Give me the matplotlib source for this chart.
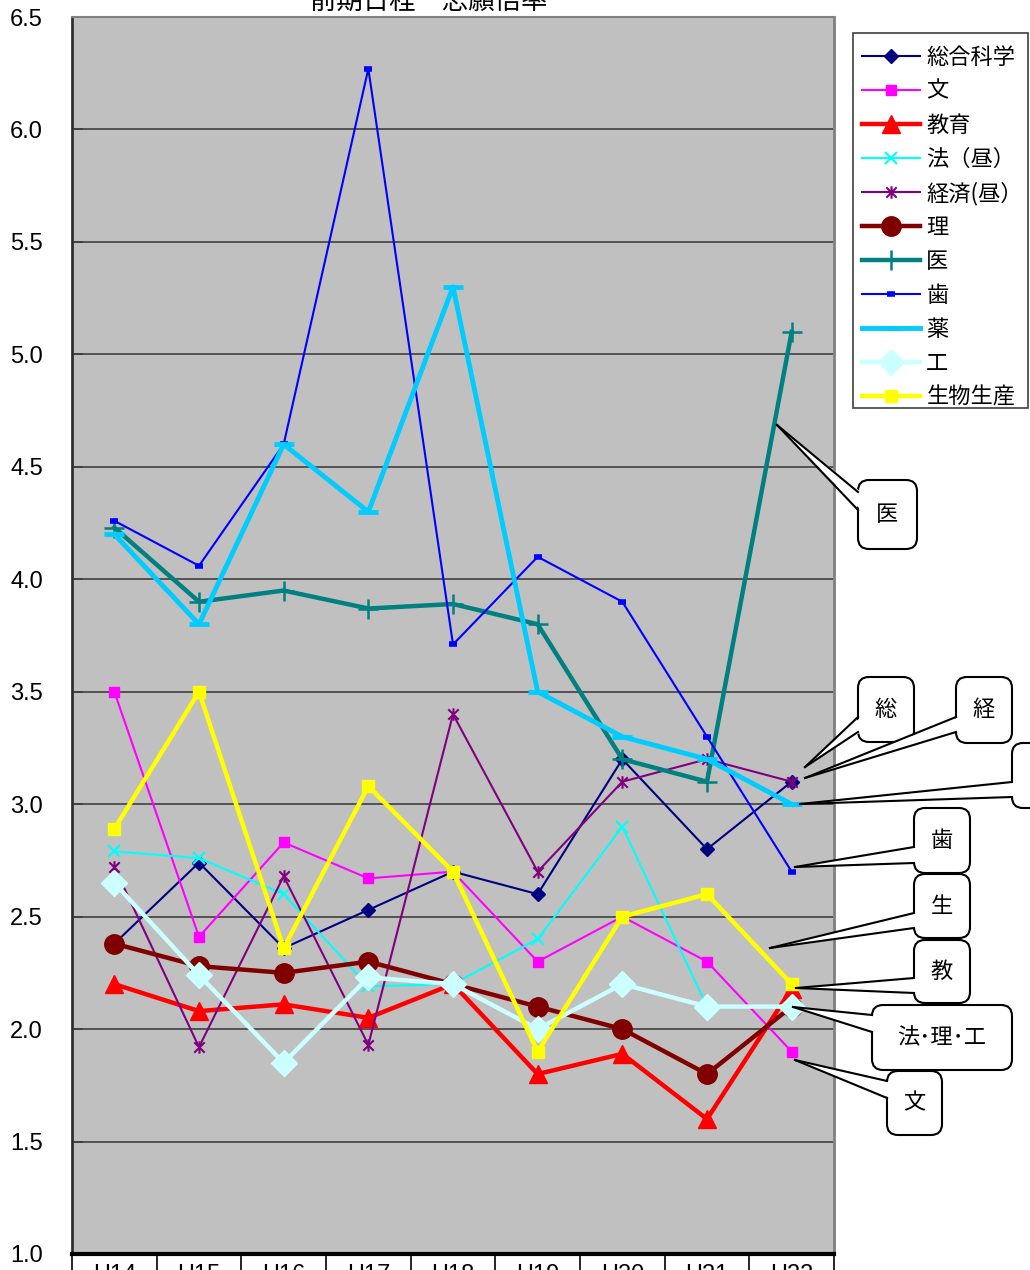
import matplotlib
matplotlib.use('Agg')
import matplotlib.pyplot as plt
from matplotlib.path import Path
from matplotlib.patches import FancyBboxPatch, Polygon, Rectangle
from matplotlib.lines import Line2D
from matplotlib.transforms import IdentityTransform

plt.rcParams['font.family'] = ['Noto Sans CJK JP', 'DejaVu Sans']

years = ['H14', 'H15', 'H16', 'H17', 'H18', 'H19', 'H20', 'H21', 'H22']

sougou = [2.38, 2.74, 2.36, 2.53, 2.70, 2.60, 3.20, 2.80, 3.10]
bun = [3.50, 2.41, 2.83, 2.67, 2.70, 2.30, 2.50, 2.30, 1.90]
kyouiku = [2.20, 2.08, 2.11, 2.05, 2.20, 1.80, 1.89, 1.60, 2.18]
hou = [2.79, 2.76, 2.60, 2.19, 2.20, 2.40, 2.90, 2.10, 2.10]
keizai = [2.72, 1.92, 2.68, 1.93, 3.40, 2.70, 3.10, 3.20, 3.10]
ri = [2.38, 2.28, 2.25, 2.30, 2.20, 2.10, 2.00, 1.80, 2.10]
i_ = [4.23, 3.90, 3.95, 3.87, 3.89, 3.80, 3.20, 3.10, 5.10]
shi = [4.26, 4.06, 4.60, 6.27, 3.71, 4.10, 3.90, 3.30, 2.70]
yaku = [4.20, 3.80, 4.60, 4.30, 5.30, 3.50, 3.30, 3.20, 3.00]
kou = [2.65, 2.24, 1.85, 2.23, 2.20, 2.00, 2.20, 2.10, 2.10]
seibutsu = [2.89, 3.50, 2.36, 3.08, 2.70, 1.90, 2.50, 2.60, 2.20]

# asterisk marker like Excel's (x plus vertical bar)
star = Path([(-1, -1), (1, 1), (-1, 1), (1, -1), (0, -1.2), (0, 1.2)],
            [Path.MOVETO, Path.LINETO, Path.MOVETO, Path.LINETO, Path.MOVETO, Path.LINETO])

# (label, values, color, linewidth, marker, markersize, markeredgewidth)
series = [
    ('総合科学', sougou, '#000080', 1.5, 'D', 7, 1),
    ('文', bun, '#FF00FF', 1.5, 's', 7.5, 1),
    ('教育', kyouiku, '#FF0000', 3.2, '^', 13, 1),
    ('法（昼）', hou, '#00FFFF', 1.5, 'x', 9, 1.5),
    ('経済(昼）', keizai, '#800080', 1.5, star, 9, 1.5),
    ('理', ri, '#800000', 3.2, 'o', 14, 1),
    ('医', i_, '#008080', 3.2, '+', 14, 1.8),
    ('歯', shi, '#0000FF', 1.5, '_', 6, 4),
    ('薬', yaku, '#00CCFF', 3.5, '_', 14, 3.5),
    ('工', kou, '#CCFFFF', 3.2, 'D', 13, 1),
    ('生物生産', seibutsu, '#FFFF00', 3.2, 's', 9, 1),
]

W, H = 1030, 1270
fig = plt.figure(figsize=(W / 100, H / 100), dpi=100)
ax = fig.add_axes([72 / W, 1 - 1254 / H, (834 - 72) / W, (1254 - 17) / H])
ax.set_facecolor('#C0C0C0')

x = list(range(len(years)))
for name, vals, col, lw, mk, ms, mew in series:
    ax.plot(x, vals, color=col, lw=lw, marker=mk, ms=ms, mew=mew,
            mfc=col, mec=col, label=name, clip_on=False)

ax.set_xlim(-0.5, len(years) - 0.5)
ax.set_ylim(1.0, 6.5)
ax.set_yticks([1.0 + 0.5 * k for k in range(12)])
ax.yaxis.set_major_formatter(matplotlib.ticker.FormatStrFormatter('%.1f'))
ax.grid(axis='y', color='#404040', lw=1.2)
ax.set_axisbelow(True)
ax.tick_params(axis='y', direction='in', length=8, width=1.2, color='#404040',
               pad=21, labelsize=17)
for lab in ax.get_yticklabels():
    lab.set_family(['Liberation Sans', 'DejaVu Sans'])

ax.set_xticks([k + 0.5 for k in range(-1, len(years))])
ax.set_xticklabels([])
ax.tick_params(axis='x', which='major', direction='out', length=25, width=1.2, color='black')
ax.set_xticks(x, minor=True)
ax.set_xticklabels(years, minor=True)
ax.tick_params(axis='x', which='minor', length=0, pad=7, labelsize=17)
for lab in ax.get_xticklabels(minor=True):
    lab.set_family(['Liberation Sans', 'DejaVu Sans'])

ax.spines['left'].set_color('#303030')
ax.spines['left'].set_linewidth(2)
ax.spines['bottom'].set_color('black')
ax.spines['bottom'].set_linewidth(3)
ax.spines['right'].set_color('#808080')
ax.spines['right'].set_linewidth(2)
ax.spines['top'].set_color('#808080')
ax.spines['top'].set_linewidth(1.5)

fig.text(429 / W, 1 - 9 / H, '前期日程　志願倍率', ha='center', va='baseline', fontsize=19)

px = IdentityTransform()

# legend: frame drawn separately so its height matches the original box
fig.add_artist(Rectangle((853, H - 408), 1028 - 853, 408 - 33, fc='white', ec='#404040',
                         lw=1.2, transform=px, zorder=-1))
leg = ax.legend(loc='upper left', bbox_to_anchor=(853 / W, 1 - 37 / H),
                bbox_transform=fig.transFigure, borderaxespad=0, fontsize=16,
                frameon=False, handlelength=2.6, handletextpad=0.3,
                labelspacing=0.49, borderpad=0.4, numpoints=1)

# Callouts (pixels from top-left): label, box (x0, y0, x1, y1), tip, wedge base y on left edge
callouts = [
    ('医', (858, 480, 917, 549), (777, 425), (492, 510)),
    ('総', (858, 677, 914, 742), (805, 767), (717, 732)),
    ('経', (956, 677, 1012, 743), (805, 778), (717, 732)),
    ('薬', (1012, 743, 1070, 808), (800, 804), (782, 797)),
    ('歯', (914, 808, 970, 873), (795, 867), (847, 863)),
    ('生', (914, 874, 970, 938), (770, 948), (913, 928)),
    ('教', (914, 940, 970, 1003), (796, 988), (978, 993)),
    ('法･理･工', (872, 1005, 1012, 1070), (793, 1007), (1015, 1032)),
    ('文', (887, 1071, 942, 1135), (795, 1060), (1081, 1098)),
]
for lab, (x0, y0, x1, y1), (tx, ty), (b0, b1) in callouts:
    box = FancyBboxPatch((x0, H - y1), x1 - x0, y1 - y0,
                         boxstyle='round,pad=0,rounding_size=11',
                         fc='white', ec='black', lw=1.5, transform=px, zorder=10)
    fig.add_artist(box)
    wedge = Polygon([(tx, H - ty), (x0 + 3, H - b0), (x0 + 3, H - b1)], closed=True,
                    fc='white', ec='none', transform=px, zorder=11)
    fig.add_artist(wedge)
    for by in (b0, b1):
        fig.add_artist(Line2D([tx, x0], [H - ty, H - by], color='black', lw=1.5,
                              transform=px, zorder=12))
    fig.text((x0 + x1) / 2 / W, 1 - (y0 + y1) / 2 / H, lab, ha='center', va='center',
             fontsize=16, zorder=13)

fig.savefig('out.png', dpi=100)
